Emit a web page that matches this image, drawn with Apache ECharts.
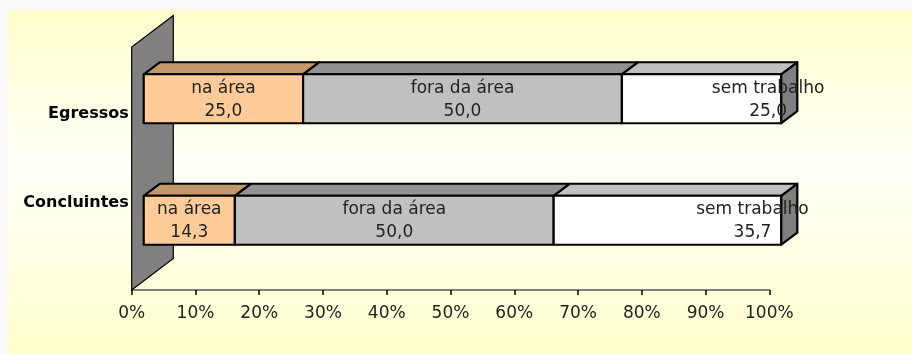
<!DOCTYPE html>
<html><head><meta charset="utf-8">
<script src="https://cdn.jsdelivr.net/npm/echarts@6/dist/echarts.min.js"></script>
<style>html,body{margin:0;padding:0;background:#fff}#c{width:912px;height:354px}</style>
</head><body><div id="c"></div>
<script>
// ---- data ----
const categories = ['Concluintes', 'Egressos'];
const seriesNames = ['na área', 'fora da área', 'sem trabalho'];
const naArea = [14.3, 25.0];
const foraDaArea = [50.0, 50.0];
const semTrabalho = [35.7, 25.0];
const tickMin = 0, tickMax = 100, tickStep = 10;

// ---- style ----
const FONT = '"DejaVu Sans", Verdana, sans-serif';
const frontColors = ['#FFCC99', '#C0C0C0', '#FFFFFF'];
const topColors = ['#C2986C', '#929292', '#C0C0C0'];
const sideColor = '#808080';
const BAR_SHIFT = [12, -9];        // bar position inside the 3D depth
const BAR_DEPTH = [16, -12];       // bar 3D depth
const WALL_DEPTH = [41.6, -31.5];  // wall depth
const BAR_RATIO = 0.403;
const lastLabelShift = [[85, 0], [66.5, 0]]; // per category, for last segment label

const seriesValues = [naArea, foraDaArea, semTrabalho];
function fmt(v) { return v.toFixed(1).replace('.', ','); }

function buildData(k) {
  return categories.map((c, i) => {
    let start = 0;
    for (let j = 0; j < k; j++) start += seriesValues[j][i];
    const v = seriesValues[k][i];
    return [start, start + v, i, v];
  });
}

function makeRender(k) {
  const isLast = k === seriesValues.length - 1;
  return function (params, api) {
    const cat = api.value(2);
    const a = api.coord([api.value(0), cat]);
    const b = api.coord([api.value(1), cat]);
    const band = api.size([0, 1])[1];
    const h = band * BAR_RATIO;
    const x0 = a[0] + BAR_SHIFT[0], x1 = b[0] + BAR_SHIFT[0];
    const yc = a[1] + BAR_SHIFT[1];
    const top = yc - h / 2, bot = yc + h / 2;
    const dx = BAR_DEPTH[0], dy = BAR_DEPTH[1];
    const stroke = { stroke: '#000', lineWidth: 2.2, lineJoin: 'round' };
    const children = [
      { type: 'polygon', shape: { points: [[x0, top], [x0 + dx, top + dy], [x1 + dx, top + dy], [x1, top]] },
        style: Object.assign({ fill: topColors[k] }, stroke) },
      { type: 'rect', shape: { x: x0, y: top, width: x1 - x0, height: h },
        style: Object.assign({ fill: frontColors[k] }, stroke) }
    ];
    if (isLast) {
      children.push({ type: 'polygon', shape: { points: [[x1, top], [x1 + dx, top + dy], [x1 + dx, bot + dy], [x1, bot]] },
        style: Object.assign({ fill: sideColor }, stroke) });
    }
    const shift = isLast ? lastLabelShift[cat] : [0, 0];
    children.push({ type: 'text', z2: 10, style: {
      text: seriesNames[k] + '\n' + fmt(api.value(3)),
      x: (x0 + x1) / 2 + shift[0], y: yc + 1 + shift[1],
      align: 'center', verticalAlign: 'middle',
      fontSize: 17, fontFamily: FONT, lineHeight: 23, fill: '#222'
    } });
    return { type: 'group', children: children };
  };
}

const chart = echarts.init(document.getElementById('c'), null, { renderer: 'canvas' });
const series = [{
  type: 'custom', name: 'wall', silent: true, data: [[0, 0]],
  encode: { x: 0, y: 1 },
  renderItem: function (params, api) {
    const r = params.coordSys;
    const wx = WALL_DEPTH[0], wy = WALL_DEPTH[1];
    return { type: 'polygon', shape: { points: [[r.x, r.y], [r.x, r.y + r.height], [r.x + wx, r.y + r.height + wy], [r.x + wx, r.y + wy]] },
      style: { fill: '#808080', stroke: '#000', lineWidth: 1.2 } };
  }
}];
seriesValues.forEach((vals, k) => {
  series.push({
    type: 'custom', name: seriesNames[k], silent: true,
    data: buildData(k), encode: { x: [0, 1], y: 2 },
    renderItem: makeRender(k)
  });
});

chart.setOption({
  animation: false,
  backgroundColor: '#FAFAFA',
  graphic: [{
    type: 'rect', left: 8, top: 10, z: -10, silent: true,
    shape: { width: 904, height: 344 },
    style: { fill: new echarts.graphic.LinearGradient(0, 0, 0, 1, [
      { offset: 0, color: '#FFFFCC' }, { offset: 0.45, color: '#FFFFF9' }, { offset: 1, color: '#FFFFCC' }]) }
  }],
  grid: { left: 131.7, right: 142.7, top: 47, bottom: 64, containLabel: false },
  xAxis: {
    type: 'value', min: tickMin, max: tickMax, interval: tickStep,
    axisLine: { show: true, lineStyle: { color: '#808080', width: 2 } },
    axisTick: { show: true, length: 5, lineStyle: { color: '#000', width: 1.5 } },
    splitLine: { show: false },
    axisLabel: { formatter: '{value}%', fontSize: 17, fontFamily: FONT, color: '#222', margin: 15 }
  },
  yAxis: {
    type: 'category', data: categories,
    axisLine: { show: false }, axisTick: { show: false },
    axisLabel: {
      margin: 3,
      formatter: function (v) { return v === 'Egressos' ? '{e|' + v + '}' : '{c|' + v + '}'; },
      rich: {
        e: { fontSize: 16, fontWeight: 'bold', fontFamily: FONT, color: '#000', padding: [12, 0, 0, 0] },
        c: { fontSize: 16, fontWeight: 'bold', fontFamily: FONT, color: '#000', padding: [0, 0, 53.5, 0] }
      }
    }
  },
  series: series
});
</script></body></html>
